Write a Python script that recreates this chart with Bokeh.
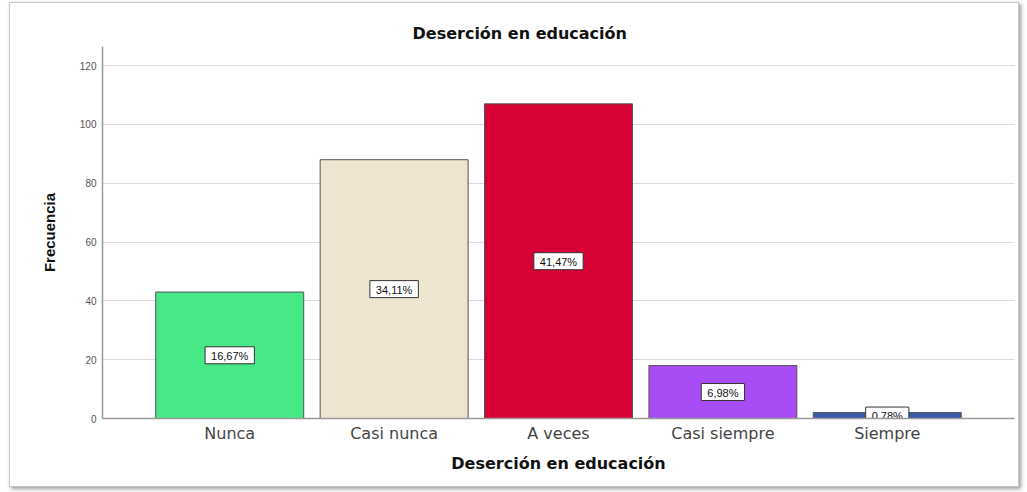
from bokeh.plotting import figure
from bokeh.models import (ColumnDataSource, FactorRange, Range1d, FixedTicker)
from bokeh.core.properties import value
from bokeh.embed import file_html
from bokeh.resources import INLINE

categories = ["Nunca", "Casi nunca", "A veces", "Casi siempre", "Siempre"]
counts = [43, 88, 107, 18, 2]
percent_labels = ["16,67%", "34,11%", "41,47%", "6,98%", "0,78%"]
colors = ["#46E985", "#EDE5D0", "#D70235", "#A84DF5", "#3A5AA8"]
y_ticks = [0, 20, 40, 60, 80, 100, 120]

src = ColumnDataSource(dict(
    cat=categories,
    count=counts,
    half=[c / 2 for c in counts],
    pct=percent_labels,
    color=colors,
))

p = figure(
    width=1010, height=485,
    x_range=FactorRange(factors=categories, range_padding=0.274, range_padding_units="absolute"),
    y_range=Range1d(0, 126.5),
    output_backend="svg", toolbar_location=None,
    min_border_left=92, min_border_right=6, min_border_top=43, min_border_bottom=70,
    title="Deserción en educación",
)
p.styles = {"border": "1px solid #c8c8c8", "box-shadow": "2px 2px 4px #999",
            "margin-left": "9px", "margin-top": "2px"}

p.title.align = "left"
p.title.offset = 310
p.title.text_font = "DejaVu Sans"
p.title.text_font_size = "16px"
p.title.text_font_style = "bold"
p.title.text_color = "#111111"
p.title.standoff = 8

p.vbar(x="cat", top="count", width=0.9, source=src, fill_color="color",
       line_color="#555555", line_width=1)

p.text(x="cat", y="half", text="pct", source=src,
       text_align="center", text_baseline="middle",
       text_font_size="11px", text_font=value("Liberation Sans"), text_color="#111111",
       background_fill_color="white", border_line_color="#333333",
       border_line_width=1, padding=dict(left=6, right=6, top=3, bottom=2))

p.outline_line_color = None
p.xgrid.grid_line_color = None
p.ygrid.grid_line_color = "#dcdcdc"
p.ygrid.ticker = FixedTicker(ticks=y_ticks)

p.yaxis.ticker = FixedTicker(ticks=y_ticks)
p.yaxis.axis_line_color = "#999999"
p.yaxis.axis_line_width = 1.5
p.yaxis.major_tick_line_color = None
p.yaxis.minor_tick_line_color = None
p.yaxis.major_tick_out = 0
p.yaxis.minor_tick_out = 0
p.yaxis.major_label_text_font = "Liberation Sans"
p.yaxis.major_label_text_font_size = "10px"
p.yaxis.major_label_text_color = "#555555"
p.yaxis.major_label_standoff = 6
p.yaxis.axis_label = "Frecuencia"
p.yaxis.axis_label_text_font = "Liberation Sans"
p.yaxis.axis_label_text_font_size = "15px"
p.yaxis.axis_label_text_font_style = "bold"
p.yaxis.axis_label_text_color = "#111111"
p.yaxis.axis_label_standoff = 19

p.xaxis.axis_line_color = "#999999"
p.xaxis.axis_line_width = 1.5
p.xaxis.major_tick_line_color = None
p.xaxis.minor_tick_line_color = None
p.xaxis.major_tick_out = 0
p.xaxis.minor_tick_out = 0
p.xaxis.major_label_text_font = "DejaVu Sans"
p.xaxis.major_label_text_font_size = "16px"
p.xaxis.major_label_text_color = "#444444"
p.xaxis.major_label_standoff = 5
p.xaxis.axis_label = "Deserción en educación"
p.xaxis.axis_label_text_font = "DejaVu Sans"
p.xaxis.axis_label_text_font_size = "16px"
p.xaxis.axis_label_text_font_style = "bold"
p.xaxis.axis_label_text_color = "#111111"
p.xaxis.axis_label_standoff = 8

open("out.html", "w").write(file_html(p, INLINE))
